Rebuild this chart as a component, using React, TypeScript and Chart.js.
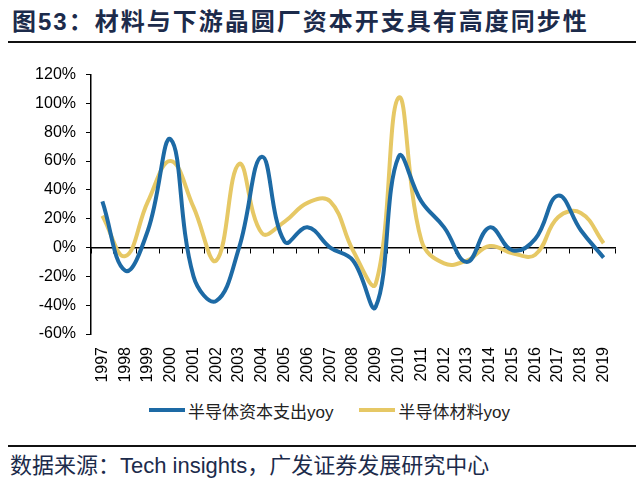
import { useEffect, useRef } from 'react';
import Chart from 'chart.js/auto';

const years = [
  '1997', '1998', '1999', '2000', '2001', '2002', '2003', '2004', '2005', '2006', '2007', '2008',
  '2009', '2010', '2011', '2012', '2013', '2014', '2015', '2016', '2017', '2018', '2019',
];

// 半导体资本支出yoy (%)
const capexYoy = [32, -16, 12, 75, -20, -37, 0, 63, 4, 14, 0, -9, -41, 63, 32, 14, -10, 14, -2, 6, 36, 12, -7];

// 半导体材料yoy (%)
const materialYoy = [22, -6, 32, 60, 28, -9, 58, 10, 18, 31, 32, -2, -25, 104, 5, -11, -9, 1, -4, -5, 21, 24, 3];

const BLUE = '#1d6aa5';
const YELLOW = '#e6c865';
const LATIN_CJK = '"Liberation Sans", "Noto Sans CJK SC", sans-serif';

export default function App() {
  const chartRef = useRef<HTMLCanvasElement>(null);
  const chartInstance = useRef<Chart | null>(null);

  useEffect(() => {
    if (!chartRef.current) return;
    if (chartInstance.current) chartInstance.current.destroy();

    chartInstance.current = new Chart(chartRef.current, {
      type: 'line',
      data: {
        labels: years,
        datasets: [
          {
            label: '半导体资本支出yoy',
            data: capexYoy,
            borderColor: BLUE,
            borderWidth: 4,
            pointRadius: 0,
            tension: 0.42,
            xAxisID: 'x',
            yAxisID: 'y',
          },
          {
            label: '半导体材料yoy',
            data: materialYoy,
            borderColor: YELLOW,
            borderWidth: 4,
            pointRadius: 0,
            tension: 0.42,
            xAxisID: 'x',
            yAxisID: 'y',
          },
        ],
      },
      options: {
        animation: false,
        responsive: false,
        maintainAspectRatio: false,
        layout: { padding: { top: 17, right: 25, left: 0, bottom: 0 } },
        plugins: {
          legend: { display: false },
          tooltip: { enabled: false },
        },
        scales: {
          // zero line with tick marks between categories
          x: {
            type: 'category',
            position: { y: 0 },
            offset: true,
            grid: {
              offset: true,
              drawOnChartArea: false,
              drawTicks: true,
              tickLength: 5,
              color: '#000',
              lineWidth: 1,
            },
            border: { display: true, color: '#000', width: 1.5 },
            ticks: { display: false },
          },
          // year labels at the bottom
          x2: {
            type: 'category',
            position: 'bottom',
            offset: true,
            grid: { display: false, drawTicks: false },
            border: { display: false },
            ticks: {
              autoSkip: false,
              minRotation: 90,
              maxRotation: 90,
              padding: 13,
              color: '#000',
              font: { family: LATIN_CJK, size: 16 },
            },
            afterFit: (scale) => {
              scale.height = 61;
            },
          },
          y: {
            min: -60,
            max: 120,
            grid: {
              drawOnChartArea: false,
              drawTicks: true,
              tickLength: 5,
              color: '#000',
            },
            border: { display: true, color: '#000', width: 1.5 },
            ticks: {
              stepSize: 20,
              padding: 10,
              color: '#000',
              font: { family: LATIN_CJK, size: 16 },
              callback: (v) => `${v}%`,
            },
            afterFit: (scale) => {
              scale.width = 91;
            },
          },
        },
      },
    });

    return () => {
      if (chartInstance.current) {
        chartInstance.current.destroy();
        chartInstance.current = null;
      }
    };
  }, []);

  const legendItem = (color: string, text: string) => (
    <div style={{ display: 'flex', alignItems: 'center' }}>
      <div style={{ width: 36, height: 4, background: color, marginRight: 3 }} />
      <span style={{ fontSize: 17, letterSpacing: 0, color: '#222' }}>{text}</span>
    </div>
  );

  return (
    <div
      style={{
        position: 'fixed',
        left: 0,
        top: 0,
        width: 640,
        height: 493,
        background: '#fff',
        fontFamily: LATIN_CJK,
        overflow: 'hidden',
      }}
    >
      <div
        style={{
          position: 'absolute',
          left: 12,
          top: 9,
          fontSize: 24,
          lineHeight: '26px',
          fontWeight: 'bold',
          letterSpacing: 2,
          color: '#1c2b4b',
          whiteSpace: 'nowrap',
        }}
      >
        图53：材料与下游晶圆厂资本开支具有高度同步性
      </div>
      <div style={{ position: 'absolute', left: 8, top: 41, width: 628, height: 2, background: '#111' }} />

      <canvas
        ref={chartRef}
        width={640}
        height={340}
        style={{ position: 'absolute', left: 0, top: 55, width: 640, height: 340 }}
      />

      <div
        style={{
          position: 'absolute',
          left: 149,
          top: 400,
          height: 20,
          display: 'flex',
          alignItems: 'center',
          gap: 26,
          whiteSpace: 'nowrap',
        }}
      >
        {legendItem(BLUE, '半导体资本支出yoy')}
        {legendItem(YELLOW, '半导体材料yoy')}
      </div>

      <div style={{ position: 'absolute', left: 8, top: 445, width: 628, height: 2, background: '#111' }} />
      <div
        style={{
          position: 'absolute',
          left: 10,
          top: 454,
          fontSize: 22,
          lineHeight: '24px',
          color: '#1c2b4b',
          whiteSpace: 'nowrap',
        }}
      >
        数据来源：Tech insights，广发证券发展研究中心
      </div>
    </div>
  );
}
